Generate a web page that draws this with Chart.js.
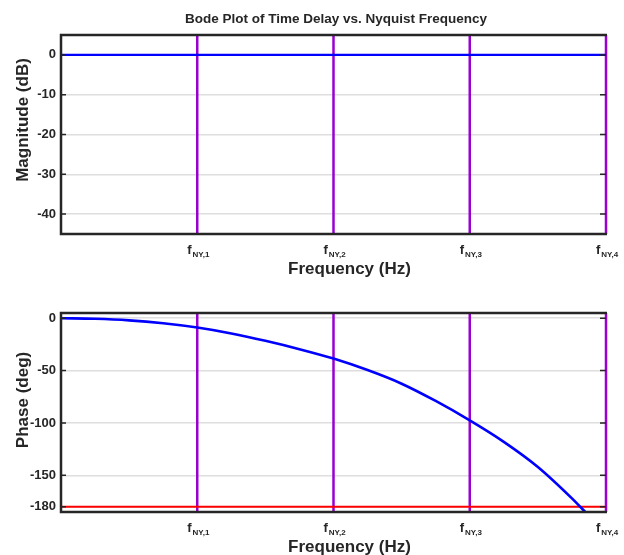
<!DOCTYPE html>
<html><head><meta charset="utf-8">
<script src="https://cdn.jsdelivr.net/npm/chart.js@4.4.0/dist/chart.umd.min.js"></script>
<style>
html,body{margin:0;padding:0;background:#fff;}
#wrap{position:relative;width:624px;height:555px;overflow:hidden;}
canvas{position:absolute;left:0;}
</style>
</head><body>
<div id="wrap">
<canvas id="mag" width="624" height="290" style="top:0px"></canvas>
<canvas id="phase" width="624" height="265" style="top:290px"></canvas>
</div>
<script>
// ---- data ----
const titleText = 'Bode Plot of Time Delay vs. Nyquist Frequency';
const xAxisTitle = 'Frequency (Hz)';
const magAxisTitle = 'Magnitude (dB)';
const phaseAxisTitle = 'Phase (deg)';
const nyquistX = [1, 2, 3, 4];
const nyquistMain = ['f', 'f', 'f', 'f'];
const nyquistSub = ['NY,1', 'NY,2', 'NY,3', 'NY,4'];
const magTicks = [0, -10, -20, -30, -40];
const phaseTicks = [0, -50, -100, -150, -180];
const xRange = [0, 4];
const magRange = [-45, 5];
const phaseRange = [-185, 5];
const magX = [0, 4];
const magY = [0, 0];
const phaseX = [0, 0.25, 0.5, 0.75, 1, 1.25, 1.5, 1.75, 2, 2.25, 2.5, 2.75, 3, 3.25, 3.5, 3.75, 3.87];
const phaseY = [0, -0.5, -2, -4.8, -8.9, -14.5, -21.5, -29.5, -38.5, -49.5, -62.5, -79, -97.5, -118, -142, -172, -188];
const limitX = [0, 4];
const limitY = [-180, -180];

const FONT = '"Liberation Sans", Arial, Helvetica, sans-serif';
const TXT = '#262626';
const BLUE = '#0000ff';
const PURPLE = '#9a00d0';
const RED = '#ff0000';

function pts(xs, ys) { return xs.map((x, i) => ({x: x, y: ys[i]})); }

function nyquistSets(range) {
  return nyquistX.map(k => ({
    data: pts([k, k], range),
    borderColor: PURPLE, borderWidth: 2.5, pointRadius: 0, clip: false
  }));
}

const decor = {
  id: 'decor',
  afterDatasetsDraw(chart, args, o) {
    const ctx = chart.ctx, a = chart.chartArea, ys = chart.scales.y, xs = chart.scales.x;
    ctx.save();
    // inner ticks left & right
    ctx.strokeStyle = TXT; ctx.lineWidth = 1.5;
    o.ticks.forEach(v => {
      const y = ys.getPixelForValue(v);
      ctx.beginPath();
      ctx.moveTo(a.left, y); ctx.lineTo(a.left + 5, y);
      ctx.moveTo(a.right - 6, y); ctx.lineTo(a.right, y);
      ctx.stroke();
    });
    // box: left, top, bottom (right side is the last Nyquist line)
    ctx.lineWidth = 2.5;
    ctx.beginPath();
    ctx.moveTo(a.right + 1, a.top); ctx.lineTo(a.left, a.top);
    ctx.lineTo(a.left, a.bottom); ctx.lineTo(a.right + 1, a.bottom);
    ctx.stroke();
    ctx.restore();
  },
  afterDraw(chart, args, o) {
    const ctx = chart.ctx, a = chart.chartArea, xs = chart.scales.x;
    ctx.save();
    ctx.fillStyle = TXT;
    ctx.textBaseline = 'alphabetic';
    if (o.title) {
      ctx.font = 'bold 13.5px ' + FONT;
      ctx.textAlign = 'center';
      ctx.fillText(o.title, 336, 22.5);
    }
    // x tick labels with subscript
    ctx.textAlign = 'left';
    nyquistX.forEach((k, i) => {
      const px = xs.getPixelForValue(k);
      ctx.font = 'bold 13px ' + FONT;
      const wf = ctx.measureText(nyquistMain[i]).width;
      ctx.font = 'bold 8px ' + FONT;
      const wsub = ctx.measureText(nyquistSub[i]).width;
      const total = wf + 1 + wsub;
      const sx = px + 1 - total / 2;
      ctx.font = 'bold 13px ' + FONT;
      ctx.fillText(nyquistMain[i], sx, a.bottom + 20);
      ctx.font = 'bold 8px ' + FONT;
      ctx.fillText(nyquistSub[i], sx + wf + 1, a.bottom + 23);
    });
    // x axis title
    ctx.font = 'bold 17px ' + FONT;
    ctx.textAlign = 'center';
    ctx.fillText(xAxisTitle, 349.5, a.bottom + 40);
    // y axis title
    ctx.translate(28, o.yTitleCenter);
    ctx.rotate(-Math.PI / 2);
    ctx.fillText(o.yTitle, 0, 0);
    ctx.restore();
  }
};

function makeChart(id, datasets, yRange, yTicks, padTop, xHeight, extra) {
  return new Chart(document.getElementById(id), {
    type: 'line',
    data: { datasets: datasets },
    plugins: [decor],
    options: {
      responsive: false, animation: false, devicePixelRatio: 1,
      layout: { padding: { left: 0, right: 18, top: padTop, bottom: 0 } },
      elements: { line: { tension: 0 }, point: { radius: 0 } },
      plugins: {
        legend: { display: false }, tooltip: { enabled: false }, title: { display: false },
        decor: Object.assign({ ticks: yTicks }, extra)
      },
      scales: {
        x: {
          type: 'linear', min: xRange[0], max: xRange[1],
          ticks: { display: false }, grid: { display: false }, border: { display: false },
          afterFit: s => { s.height = xHeight; }
        },
        y: {
          type: 'linear', min: yRange[0], max: yRange[1],
          afterBuildTicks: s => { s.ticks = yTicks.map(v => ({ value: v })); },
          ticks: { font: { family: FONT, size: 13, weight: 'bold' }, color: TXT, padding: 5 },
          grid: { color: '#dedede', lineWidth: 1.5, drawTicks: false },
          border: { display: false },
          afterFit: s => { s.width = 61; }
        }
      }
    }
  });
}

makeChart('mag',
  [ { data: pts(magX, magY), borderColor: BLUE, borderWidth: 2.2, pointRadius: 0 } ].concat(nyquistSets(magRange)),
  magRange, magTicks, 35, 56,
  { title: titleText, yTitle: magAxisTitle, yTitleCenter: 120 });

makeChart('phase',
  [ { data: pts(phaseX, phaseY), borderColor: BLUE, borderWidth: 2.6, pointRadius: 0, cubicInterpolationMode: 'monotone', clip: 0 },
    { data: pts(limitX, limitY), borderColor: RED, borderWidth: 2, pointRadius: 0 } ].concat(nyquistSets(phaseRange)),
  phaseRange, phaseTicks, 23, 43,
  { yTitle: phaseAxisTitle, yTitleCenter: 110 });
</script>
</body></html>
